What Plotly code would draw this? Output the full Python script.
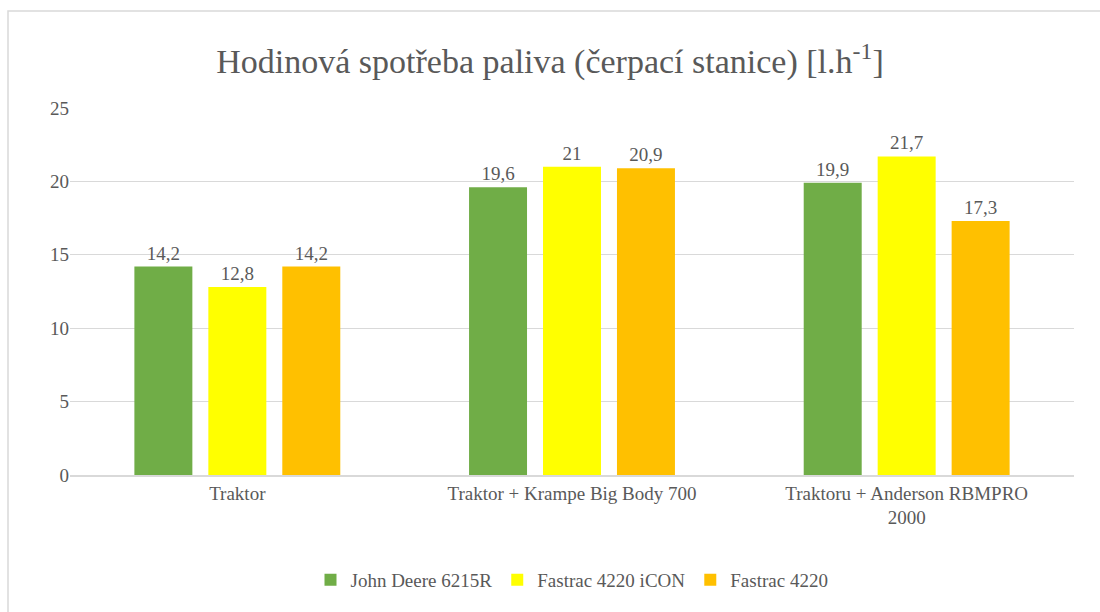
import plotly.graph_objects as go

# chart data
categories = ["Traktor", "Traktor + Krampe Big Body 700", "Traktoru + Anderson RBMPRO<br>2000"]
series_names = ["John Deere 6215R", "Fastrac 4220 iCON", "Fastrac 4220"]
john_deere = [14.2, 19.6, 19.9]
fastrac_icon = [12.8, 21.0, 21.7]
fastrac = [14.2, 20.9, 17.3]
colors = ["#70AD47", "#FFFF00", "#FFC000"]

font_family = "'Liberation Serif', 'DejaVu Serif', serif"
text_color = "#595959"


def fmt(v):
    # comma as decimal separator, no trailing ,0
    s = f"{v:.1f}".replace(".", ",")
    return s[:-2] if s.endswith(",0") else s


fig = go.Figure()
for name, vals, col in zip(series_names, [john_deere, fastrac_icon, fastrac], colors):
    fig.add_trace(go.Bar(
        x=categories,
        y=vals,
        name=name,
        marker=dict(color=col, line=dict(width=0)),
        text=[fmt(v) for v in vals],
        textposition="outside",
        textfont=dict(family=font_family, size=19, color=text_color),
        cliponaxis=False,
        hoverinfo="skip",
    ))

fig.update_layout(
    width=1100,
    height=612,
    paper_bgcolor="white",
    plot_bgcolor="white",
    margin=dict(l=70, r=26, t=108, b=137),
    barmode="group",
    bargap=0.337,
    bargroupgap=0.216,
    font=dict(family=font_family, color=text_color),
    title=dict(
        text="Hodinová spotřeba paliva (čerpací stanice) [l.h<sup>-1</sup>]",
        x=0.5,
        xanchor="center",
        y=0.9,
        yanchor="middle",
        font=dict(family=font_family, size=34, color=text_color),
    ),
    legend=dict(
        orientation="h",
        x=0.5,
        xanchor="center",
        y=-0.286,
        yanchor="middle",
        font=dict(family=font_family, size=19, color=text_color),
        itemwidth=30,
        tracegroupgap=0,
    ),
    shapes=[dict(
        type="rect", xref="paper", yref="paper",
        x0=-62 / 1004, x1=1120 / 1004, y0=-200 / 367, y1=(475 - 11) / 367,
        line=dict(color="#d9d9d9", width=1.5),
    )],
)

fig.update_yaxes(
    range=[0, 25],
    dtick=5,
    showgrid=True,
    gridcolor="#d9d9d9",
    gridwidth=1,
    zeroline=False,
    showline=False,
    ticks="",
    ticklen=0,
    tickfont=dict(family=font_family, size=19, color=text_color),
)
fig.update_xaxes(
    showline=True,
    linecolor="#d9d9d9",
    linewidth=1.5,
    ticks="",
    tickfont=dict(family=font_family, size=19, color=text_color),
)

# page has a default body margin; drop it so the figure sits at 0,0
fig.write_html("out.html", config={"displayModeBar": False},
               post_script="document.body.style.margin='0px';")
